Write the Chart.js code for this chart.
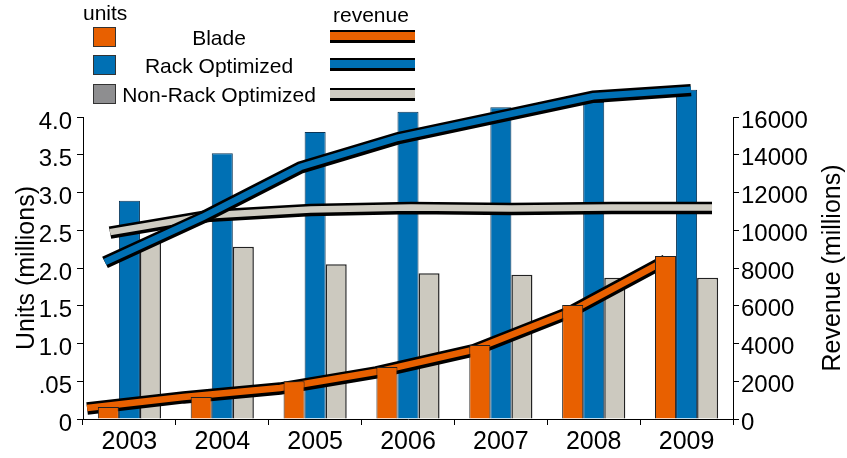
<!DOCTYPE html>
<html>
<head>
<meta charset="utf-8">
<script src="https://cdn.jsdelivr.net/npm/chart.js@4/dist/chart.umd.min.js"></script>
<style>
  html, body { margin: 0; padding: 0; background: #fff; }
  #wrap { position: relative; width: 847px; height: 458px; font-family: "Liberation Sans", Arial, sans-serif; color: #000; }
  canvas { position: absolute; left: 0; top: 0; }
  .lg { position: absolute; font-size: 21px; line-height: 24px; height: 24px; white-space: nowrap; }
  .sw { position: absolute; width: 23px; height: 20px; border: 1px solid #333; box-sizing: border-box; }
  .ln { position: absolute; width: 85px; height: 13px; box-sizing: border-box; border-top: 2.5px solid #000; border-bottom: 3.5px solid #000; }
</style>
</head>
<body>
<div id="wrap">
  <canvas id="c" width="847" height="458"></canvas>
  <div class="lg" style="left:83px; top:1px;">units</div>
  <div class="lg" style="left:333px; top:3px;">revenue</div>
  <div class="sw" style="left:93px; top:27px; background:#E86000;"></div>
  <div class="sw" style="left:93px; top:55px; background:#0070B4;"></div>
  <div class="sw" style="left:93px; top:84px; background:#8E8E90;"></div>
  <div class="lg" style="left:119px; width:200px; text-align:center; top:26px;">Blade</div>
  <div class="lg" style="left:119px; width:200px; text-align:center; top:54px;">Rack Optimized</div>
  <div class="lg" style="left:119px; width:200px; text-align:center; top:83px;">Non-Rack Optimized</div>
  <div class="ln" style="left:330px; top:30px; background:#E86000;"></div>
  <div class="ln" style="left:330px; top:58px; background:#0070B4;"></div>
  <div class="ln" style="left:330px; top:88px; background:#CFCCC2;"></div>
</div>
<script>
// ---- data ----
const years = ['2003', '2004', '2005', '2006', '2007', '2008', '2009'];
const bladeUnits   = [0.16, 0.29, 0.50, 0.69, 0.98, 1.51, 2.16];
const rackUnits    = [2.89, 3.52, 3.80, 4.07, 4.13, 4.20, 4.36];
const nonRackUnits = [2.34, 2.28, 2.05, 1.93, 1.91, 1.87, 1.87];
const bladeRevenue   = [580, 1170, 1640, 2500, 3660, 5670, 8420];
const rackRevenue    = [8320, 10700, 13350, 14900, 16000, 17100, 17450];
const nonRackRevenue = [9900, 10800, 11100, 11200, 11150, 11200, 11200];
const unitTickLabels    = ['0', '.05', '1.0', '1.5', '2.0', '2.5', '3.0', '3.5', '4.0'];
const revenueTickLabels = ['0', '2000', '4000', '6000', '8000', '10000', '12000', '14000', '16000'];

// ---- styling ----
const FONT = '"Liberation Sans", Arial, sans-serif';
const ORANGE = '#E86000', BLUE = '#0070B4', GRAY = '#CCC9BF', GRAYLINE = '#CFCCC2';
// horizontal spread of each revenue line, in category widths relative to first/last category centre
const SPREAD = { blade: [-0.456, -0.222], rack: [-0.263, 0.047], nonrack: [-0.209, 0.274] };

function lineSet(vals, color, spread, order, black) {
  return {
    type: 'line',
    data: vals,
    xAxisID: 'x',
    yAxisID: 'yR',
    borderColor: black ? '#000' : color,
    borderWidth: black ? 12.5 : 6.5,
    borderCapStyle: 'butt',
    borderJoinStyle: 'miter',
    pointRadius: 0,
    tension: 0,
    fill: false,
    clip: false,
    order: order,
    _black: black,
    _spread: spread
  };
}

const lineLayoutPlugin = {
  id: 'lineLayout',
  beforeDatasetDraw(chart, args) {
    const ds = chart.data.datasets[args.index];
    if (!ds._spread) return;
    const xs = chart.scales.x;
    const n = years.length;
    const p0 = xs.getPixelForValue(0), p1 = xs.getPixelForValue(n - 1);
    const w = (p1 - p0) / (n - 1);
    const t0 = p0 + ds._spread[0] * w, t1 = p1 + ds._spread[1] * w;
    const a = (t1 - t0) / (p1 - p0);
    const b = t0 - a * p0;
    chart.ctx.save();
    chart.ctx.transform(a, 0, 0, 1, b, ds._black ? 0.5 : 0);
  },
  afterDatasetDraw(chart, args) {
    const ds = chart.data.datasets[args.index];
    if (ds._spread) chart.ctx.restore();
  }
};

const rightTitlePlugin = {
  id: 'rightTitle',
  afterDraw(chart) {
    const ctx = chart.ctx;
    const a = chart.chartArea;
    ctx.save();
    ctx.translate(833, (a.top + a.bottom) / 2);
    ctx.rotate(-Math.PI / 2);
    ctx.font = '25px ' + FONT;
    ctx.fillStyle = '#000';
    ctx.textAlign = 'center';
    ctx.textBaseline = 'middle';
    ctx.fillText('Revenue (millions)', 0, 0);
    ctx.restore();
  }
};

new Chart(document.getElementById('c'), {
  type: 'bar',
  data: {
    labels: years,
    datasets: [
      { label: 'Blade', data: bladeUnits, backgroundColor: ORANGE, borderColor: '#222', borderWidth: 1, order: 0, yAxisID: 'y', xAxisID: 'x', clip: false },
      { label: 'Rack Optimized', data: rackUnits, backgroundColor: BLUE, borderColor: '#0b3556', borderWidth: 1, order: 7, yAxisID: 'y', xAxisID: 'x', clip: false },
      { label: 'Non-Rack Optimized', data: nonRackUnits, backgroundColor: GRAY, borderColor: '#222', borderWidth: 1.5, order: 8, yAxisID: 'y', xAxisID: 'x', clip: false },
      lineSet(rackRevenue, BLUE, SPREAD.rack, 1, false),
      lineSet(rackRevenue, BLUE, SPREAD.rack, 2, true),
      lineSet(nonRackRevenue, GRAYLINE, SPREAD.nonrack, 3, false),
      lineSet(nonRackRevenue, GRAYLINE, SPREAD.nonrack, 4, true),
      lineSet(bladeRevenue, ORANGE, SPREAD.blade, 5, false),
      lineSet(bladeRevenue, ORANGE, SPREAD.blade, 6, true)
    ]
  },
  options: {
    responsive: false,
    animation: false,
    layout: { padding: { top: 117, left: 0, right: 0, bottom: 0 } },
    datasets: { bar: { categoryPercentage: 0.68, barPercentage: 1.0 } },
    plugins: { legend: { display: false }, tooltip: { enabled: false } },
    scales: {
      x: {
        type: 'category',
        offset: true,
        grid: { offset: true, drawOnChartArea: false, drawTicks: true, tickLength: 6, color: '#000', tickColor: '#000' },
        border: { display: true, color: '#000', width: 1 },
        ticks: { color: '#000', font: { family: FONT, size: 25 }, padding: 2, maxRotation: 0, autoSkip: false },
        afterFit: (s) => { s.height = 39; }
      },
      y: {
        type: 'linear',
        position: 'left',
        min: 0, max: 4,
        grid: { drawOnChartArea: false, drawTicks: true, tickLength: 6, color: '#000', tickColor: '#000' },
        border: { display: true, color: '#000', width: 1 },
        ticks: { stepSize: 0.5, color: '#000', font: { family: FONT, size: 24 }, padding: 5, labelOffset: 5,
                 callback: (v, i) => unitTickLabels[i] },
        title: { display: true, text: 'Units (millions)', color: '#000', font: { family: FONT, size: 25 }, padding: { top: 12, bottom: 0 } },
        afterFit: (s) => { s.width = 83; }
      },
      yR: {
        type: 'linear',
        position: 'right',
        min: 0, max: 16000,
        grid: { drawOnChartArea: false, drawTicks: true, tickLength: 6, color: '#000', tickColor: '#000' },
        border: { display: true, color: '#000', width: 1 },
        ticks: { stepSize: 2000, color: '#000', font: { family: FONT, size: 24 }, padding: 2, labelOffset: 4,
                 callback: (v, i) => revenueTickLabels[i] },
        afterFit: (s) => { s.width = 114; }
      }
    }
  },
  plugins: [lineLayoutPlugin, rightTitlePlugin]
});
</script>
</body>
</html>
